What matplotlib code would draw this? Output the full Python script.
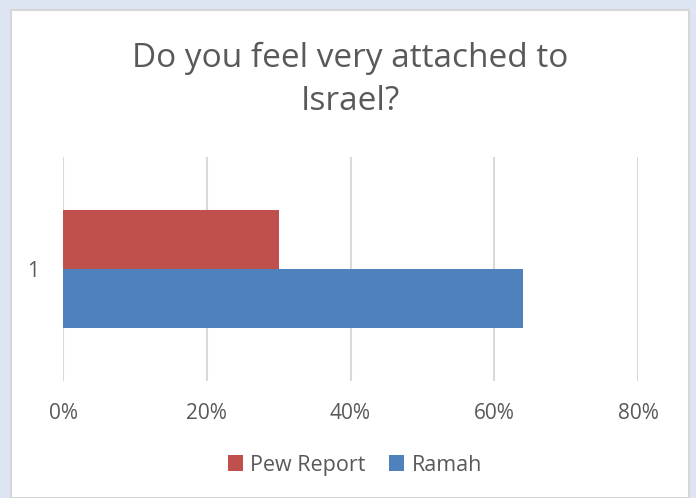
import matplotlib.pyplot as plt
from matplotlib.patches import Rectangle

categories = ["1"]
series = ["Pew Report", "Ramah"]
values = [0.30, 0.64]
colors = ["#c0504d", "#4f81bd"]
ticks = [0, 0.2, 0.4, 0.6, 0.8]
tick_labels = ["0%", "20%", "40%", "60%", "80%"]

plt.rcParams['font.family'] = ['Open Sans', 'DejaVu Sans']

fig = plt.figure(figsize=(6.96, 4.98), dpi=100)
fig.patch.set_facecolor("#dce5f1")

# white chart area with thin grey frame
W, H = 696, 498
fig.patches.append(Rectangle((11 / W, 0), (689 - 11) / W, (498 - 10) / H,
                             transform=fig.transFigure, facecolor="white",
                             edgecolor="#d6d6d6", linewidth=1.5, zorder=-5))

ax = fig.add_axes([63 / W, 1 - 381 / H, (638 - 63) / W, (381 - 157) / H])
ax.set_facecolor("none")
ax.set_zorder(2)

h = 0.263
offs = [0.13, -0.13]
for s, v, c, o in zip(series, values, colors, offs):
    ax.barh(0 + o, v, height=h, color=c, label=s, zorder=3)

ax.set_xlim(0, 0.8)
ax.set_ylim(-0.5, 0.5)
ax.set_xticks(ticks)
ax.set_xticklabels(tick_labels)
ax.set_yticks([0])
ax.set_yticklabels(categories)
ax.tick_params(length=0, labelsize=15, colors="#595959")
ax.tick_params(axis="x", pad=16)
ax.tick_params(axis="y", pad=17)
ax.grid(axis="x", color="#d9d9d9", linewidth=1.5, zorder=0)
for sp in ax.spines.values():
    sp.set_visible(False)

fig.text(350 / W, 1 - 80 / H, "Do you feel very attached to\nIsrael?",
         ha="center", va="center", fontsize=24, color="#595959",
         linespacing=1.38)

ax.legend(loc="center", bbox_to_anchor=(355 / W, 1 - 465 / H),
          bbox_transform=fig.transFigure, ncol=2, frameon=False,
          fontsize=15.5, labelcolor="#595959", handlelength=0.7,
          handleheight=0.7, handletextpad=0.35, columnspacing=1.1)

plt.savefig("out.png", dpi=100)
